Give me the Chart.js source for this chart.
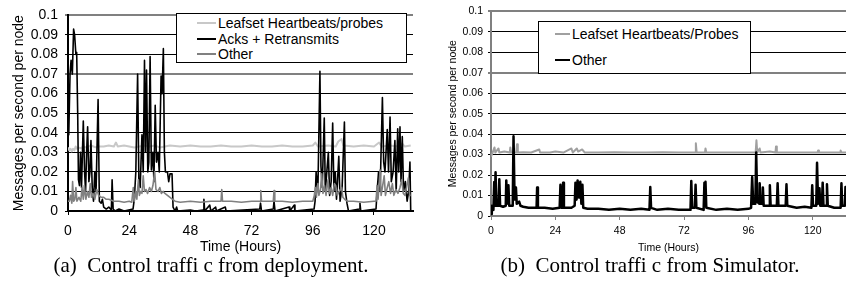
<!DOCTYPE html>
<html>
<head>
<meta charset="utf-8">
<script src="https://cdn.jsdelivr.net/npm/chart.js@4.4.0/dist/chart.umd.min.js"></script>
<style>
body{margin:0;background:#fff;width:846px;height:282px;overflow:hidden;position:relative;font-family:"Liberation Sans",Arial,sans-serif}
canvas{position:absolute;top:0}
#chartA{left:0}
#chartB{left:440px}
.legend{position:absolute;background:#fff;border:1px solid #000;font-size:14px;color:#000}
.legend .item{position:absolute;white-space:nowrap;line-height:16px}
.legend .swatch{position:absolute;height:0}
.caption{position:absolute;font-family:"Liberation Serif","Times New Roman",serif;font-size:21px;line-height:24px;white-space:nowrap;transform:translateX(-50%)}
</style>
</head>
<body>
<canvas id="chartA" width="420" height="255"></canvas>
<canvas id="chartB" width="406" height="255"></canvas>
<div class="legend" id="legendA" style="left:176px;top:13px;width:229px;height:48px"></div>
<div class="legend" id="legendB" style="left:538px;top:21px;width:211px;height:51px"></div>
<div class="caption" style="left:211px;top:253px">(a)&nbsp; Control traffi c from deployment.</div>
<div class="caption" style="left:650px;top:253px">(b)&nbsp; Control traffi c from Simulator.</div>
<script>
// tick values
const xTicks = [0, 24, 48, 72, 96, 120];
const yTicks = [0, 0.01, 0.02, 0.03, 0.04, 0.05, 0.06, 0.07, 0.08, 0.09, 0.1];

// (a) deployment: [hour, messages/s/node]
const leafsetA = [[0,0.0325],[0.5,0.031],[1,0.0318],[1.5,0.0305],[2,0.0318],[2.5,0.031],[3,0.033],[3.5,0.0318],[4,0.0325],[5,0.032],[6,0.033],[7,0.0325],[8,0.033],[9,0.0335],[10,0.033],[11,0.0325],[12,0.033],[14,0.033],[16,0.0335],[18,0.033],[18.8,0.035],[19.5,0.033],[22,0.0335],[24,0.033],[26,0.0325],[28,0.033],[30,0.0335],[32,0.033],[34,0.0335],[36,0.0325],[38,0.033],[40,0.0335],[44,0.033],[48,0.0335],[52,0.033],[56,0.033],[60,0.0335],[64,0.033],[68,0.033],[72,0.0335],[76,0.033],[80,0.033],[84,0.0335],[88,0.033],[92,0.033],[96,0.0335],[97,0.035],[98,0.033],[102,0.0335],[105,0.033],[106,0.0355],[107.3,0.0368],[108,0.0335],[112,0.033],[116,0.0335],[120,0.033],[122,0.035],[123,0.033],[126,0.0335],[130,0.033],[131,0.0345],[132,0.033],[134.4,0.0335]];

const acksA = [[0,0.04],[0.3,0.039],[0.8,0.07],[1.2,0.077],[1.7,0.07],[2.2,0.093],[2.6,0.09],[3.1,0.08],[3.4,0.081],[3.8,0.05],[4.1,0.016],[4.5,0.013],[4.9,0.03],[5.3,0.012],[6,0.046],[6.5,0.02],[6.9,0.01],[7.3,0.03],[7.7,0.043],[8.2,0.015],[8.6,0.02],[9,0.036],[9.5,0.012],[10,0.005],[10.5,0.02],[11,0.01],[11.8,0.057],[12.3,0.005],[13,0.004],[13.5,0.006],[14,0.002],[15,0.001],[16,0.002],[17,0.0005],[17.3,0.016],[17.7,0.001],[18.5,0],[20,0.001],[22,0],[25.5,0.001],[26,0.006],[26.6,0.02],[27.3,0.07],[27.8,0.015],[28.3,0.012],[29,0.039],[29.5,0.02],[30,0.077],[30.4,0.03],[30.8,0.072],[31.3,0.02],[31.7,0.025],[32.2,0.079],[32.7,0.021],[33.3,0.03],[33.7,0.015],[34.2,0.054],[34.7,0.025],[35.3,0.03],[35.8,0.02],[36.5,0.069],[36.9,0.06],[37.4,0.083],[37.8,0.03],[38.2,0.02],[39,0.02],[39.5,0.015],[40,0.019],[40.8,0.019],[41.2,0.002],[42,0],[42.6,0.002],[43,0],[48,0.0005],[50,0],[53,0.0005],[53.3,0.006],[53.6,0],[55.6,0.003],[56,0],[57.9,0.002],[58.2,0],[61.7,0.002],[62,0],[75.2,0.001],[75.5,0.004],[75.9,0],[80.5,0.001],[80.8,0.005],[81.2,0],[86.7,0.002],[87,0],[88.7,0.003],[89,0],[96.5,0.001],[96.9,0.005],[97.3,0.02],[98,0.01],[98.8,0.0714],[99.2,0.023],[99.7,0.012],[100.5,0.0475],[100.9,0.01],[101.5,0.02],[102.1,0.03],[102.6,0.008],[103.2,0.015],[103.8,0.045],[104.3,0.01],[104.8,0.02],[105.3,0.006],[106.2,0.028],[106.7,0.005],[107.5,0.012],[108.4,0.0455],[108.8,0.01],[109.4,0.004],[110,0],[114.3,0.001],[114.5,0.004],[114.8,0],[120.8,0.001],[121.2,0.01],[121.8,0.02],[122.4,0.01],[123.3,0.058],[123.8,0.025],[124.3,0.02],[125.2,0.0416],[125.7,0.02],[126.3,0.048],[126.8,0.015],[127.5,0.02],[128.2,0.036],[128.7,0.01],[129.3,0.042],[129.7,0.02],[130.2,0.043],[130.6,0.015],[131.1,0.038],[131.6,0.01],[132.3,0.015],[133,0.005],[133.6,0.01],[134.1,0.025],[134.4,0]];

const otherA = [[0,0.005],[0.5,0.005],[1,0.008],[1.5,0.004],[1.8,0.015],[2.2,0.005],[2.7,0.006],[3.1,0.012],[3.5,0.005],[4.3,0.007],[5,0.005],[5.5,0.012],[6,0.006],[6.4,0.013],[7,0.006],[7.6,0.01],[8.2,0.007],[8.7,0.014],[9.2,0.007],[9.8,0.009],[10.5,0.006],[11.3,0.011],[12,0.008],[13,0.007],[14,0.007],[15,0.006],[16,0.006],[17,0.0055],[18,0.005],[20,0.005],[22,0.0045],[24,0.005],[25,0.0045],[25.6,0.012],[26,0.005],[26.6,0.01],[27,0.006],[27.6,0.016],[28,0.008],[28.5,0.01],[29,0.009],[29.5,0.018],[30,0.01],[30.6,0.011],[31.2,0.009],[32,0.012],[32.7,0.01],[33.3,0.013],[34,0.02],[34.5,0.011],[35.3,0.01],[36,0.012],[36.6,0.009],[37.3,0.01],[38,0.009],[39,0.008],[40,0.007],[41,0.006],[42,0.005],[44,0.0045],[48,0.005],[52,0.0045],[56,0.005],[60,0.005],[60.3,0.011],[60.6,0.005],[64,0.005],[68,0.0045],[72,0.005],[75.3,0.005],[75.6,0.0105],[75.9,0.005],[80.5,0.005],[80.8,0.0105],[81.1,0.005],[84,0.005],[88,0.0045],[92,0.005],[96,0.005],[96.6,0.008],[97,0.012],[97.4,0.007],[98,0.014],[98.4,0.008],[99,0.011],[99.5,0.019],[100,0.009],[100.6,0.013],[101.2,0.008],[102,0.016],[102.5,0.009],[103.2,0.012],[103.8,0.008],[104.5,0.014],[105,0.013],[105.6,0.008],[106.3,0.01],[107.3,0.012],[107.8,0.007],[108.5,0.006],[109.5,0.005],[112,0.005],[116,0.0045],[120,0.005],[120.8,0.005],[121.2,0.013],[121.6,0.006],[122.4,0.021],[122.8,0.008],[123.4,0.013],[124,0.018],[124.5,0.008],[125.2,0.012],[125.8,0.015],[126.5,0.009],[127.2,0.014],[127.8,0.008],[128.6,0.011],[129.4,0.009],[130.2,0.012],[130.9,0.016],[131.5,0.009],[132.2,0.008],[133.5,0.017],[134,0.008],[134.4,0.008]];

// (b) simulator
const leafsetB = [[0,0.029],[0.6,0.031],[1.3,0.0335],[1.6,0.031],[2.8,0.033],[3.1,0.031],[5,0.0315],[7,0.031],[7.2,0.0335],[7.5,0.031],[9.4,0.031],[9.7,0.035],[10,0.031],[12,0.0312],[15,0.031],[18,0.0325],[18.3,0.031],[22,0.031],[24,0.0315],[27,0.031],[30,0.033],[30.5,0.031],[32,0.033],[32.5,0.0315],[34,0.0325],[35,0.031],[40,0.031],[46,0.0312],[52,0.031],[58,0.031],[64,0.0312],[70,0.031],[76.1,0.031],[76.4,0.0355],[76.7,0.031],[79.8,0.031],[80,0.033],[80.3,0.031],[86,0.031],[92,0.031],[98.7,0.031],[99,0.037],[99.3,0.031],[100.2,0.033],[100.5,0.031],[104,0.0315],[106.1,0.031],[106.3,0.034],[106.6,0.031],[110,0.031],[116,0.031],[121.8,0.031],[122,0.032],[122.3,0.031],[127,0.031],[130.2,0.031],[130.4,0.032],[130.7,0.031],[133,0.031]];

const otherB = [[0,0.001],[0.3,0.005],[0.9,0.003],[1.2,0.0166],[1.4,0.005],[1.7,0.0214],[2,0.005],[2.8,0.005],[3.1,0.0179],[3.4,0.005],[4.5,0.0045],[5.5,0.005],[5.7,0.0174],[6,0.006],[6.5,0.015],[6.8,0.005],[8.1,0.005],[8.4,0.039],[8.8,0.008],[9.3,0.0139],[9.6,0.006],[10.5,0.007],[11,0.005],[12,0.0045],[14,0.004],[17,0.004],[17.2,0.0139],[17.5,0.004],[20,0.004],[23,0.0035],[25.6,0.004],[25.9,0.0153],[26.2,0.004],[26.6,0.004],[26.9,0.0163],[27.2,0.004],[30,0.004],[31.2,0.005],[31.5,0.0163],[31.9,0.008],[32.3,0.0174],[32.8,0.009],[33.3,0.0167],[33.7,0.006],[34.1,0.0153],[34.4,0.004],[36,0.0035],[40,0.0035],[44,0.003],[48,0.0035],[52,0.003],[56,0.0035],[59.1,0.003],[59.4,0.0142],[59.7,0.004],[62,0.003],[66,0.0035],[70,0.003],[74.4,0.003],[74.7,0.0171],[75,0.004],[76,0.004],[76.3,0.0153],[76.6,0.004],[79.3,0.003],[79.6,0.0163],[79.8,0.005],[80,0.0167],[80.3,0.004],[84,0.003],[88,0.0035],[92,0.003],[96,0.0035],[97,0.004],[97.4,0.019],[97.8,0.006],[98.6,0.006],[98.9,0.031],[99.3,0.007],[100,0.006],[100.2,0.016],[100.6,0.006],[101.1,0.006],[101.4,0.0139],[101.7,0.005],[103.7,0.005],[104,0.015],[104.3,0.005],[106.6,0.005],[106.9,0.016],[107.2,0.005],[109.9,0.005],[110.2,0.0155],[110.5,0.005],[114,0.004],[117,0.0045],[119.5,0.004],[119.8,0.015],[120.1,0.005],[121.3,0.005],[121.6,0.026],[122,0.006],[122.5,0.0135],[122.8,0.005],[123.4,0.005],[123.7,0.0163],[124,0.005],[125,0.005],[125.3,0.0155],[125.6,0.005],[128,0.004],[130.4,0.004],[130.7,0.016],[131,0.005],[132,0.005],[132.2,0.0142],[132.5,0.005],[133,0.004]];

function pts(arr) {
  return arr.map(p => ({x: p[0], y: p[1]}));
}

function isGray(v) {
  return Math.abs(v - 0.1) < 1e-6 || Math.abs(v - 0.07) < 1e-6;
}

function makeChart(id, datasets, o) {
  return new Chart(document.getElementById(id), {
    type: 'line',
    data: {datasets: datasets},
    options: {
      responsive: false,
      animation: false,
      layout: {padding: {top: o.top, right: o.right, left: 0, bottom: 0}},
      plugins: {legend: {display: false}, tooltip: {enabled: false}},
      elements: {point: {radius: 0}, line: {tension: 0, borderJoinStyle: 'round'}},
      scales: {
        x: {
          type: 'linear',
          min: 0,
          max: o.xMax,
          afterBuildTicks: s => { s.ticks = xTicks.map(v => ({value: v})); },
          afterFit: s => { s.height = o.xHeight; },
          border: {color: o.axisColor, width: o.axisWidth},
          grid: {drawOnChartArea: false, color: o.axisColor, tickLength: 4},
          ticks: {color: '#000', padding: o.xPad, maxRotation: 0, autoSkip: false, font: {family: 'Liberation Sans', size: o.tickSize}},
          title: {display: true, text: 'Time (Hours)', color: '#000', padding: {top: 0, bottom: o.xTitlePad}, font: {family: 'Liberation Sans', size: o.xTitleSize}}
        },
        y: {
          min: 0,
          max: 0.1,
          afterBuildTicks: s => { s.ticks = yTicks.map(v => ({value: v})); },
          afterFit: s => { s.width = o.yWidth; },
          border: {color: o.axisColor, width: o.axisWidth},
          grid: {
            color: c => isGray(c.tick.value) ? '#808080' : '#000',
            lineWidth: c => isGray(c.tick.value) ? 2 : 1,
            tickLength: 3
          },
          ticks: {color: '#000', padding: o.yPad, autoSkip: false, font: {family: 'Liberation Sans', size: o.tickSize},
            callback: v => String(+v.toFixed(2))},
          title: {display: true, text: 'Messages per second per node', color: '#000', padding: {top: o.yTitlePad, bottom: 0}, font: {family: 'Liberation Sans', size: o.yTitleSize}}
        }
      }
    }
  });
}

function makeLegend(id, datasets, rows, swLeft, swWidth, textLeft) {
  const box = document.getElementById(id);
  datasets.forEach((d, i) => {
    const sw = document.createElement('div');
    sw.className = 'swatch';
    sw.style.left = swLeft + 'px';
    sw.style.width = swWidth + 'px';
    sw.style.top = (rows[i] - 1) + 'px';
    sw.style.borderTop = '2px solid ' + d.borderColor;
    box.appendChild(sw);
    const t = document.createElement('div');
    t.className = 'item';
    t.style.left = textLeft + 'px';
    t.style.top = (rows[i] - 8) + 'px';
    t.textContent = d.label;
    box.appendChild(t);
  });
}

const dsA = [
  {label: 'Leafset Heartbeats/probes', data: pts(leafsetA), borderColor: '#c8c8c8', borderWidth: 2, order: 3},
  {label: 'Acks + Retransmits', data: pts(acksA), borderColor: '#000000', borderWidth: 1.6, order: 2},
  {label: 'Other', data: pts(otherA), borderColor: '#808080', borderWidth: 1.6, order: 1}
];
const dsB = [
  {label: 'Leafset Heartbeats/Probes', data: pts(leafsetB), borderColor: '#a0a0a0', borderWidth: 2, order: 2},
  {label: 'Other', data: pts(otherB), borderColor: '#000000', borderWidth: 2.5, order: 1}
];

makeChart('chartA', dsA, {top: 9, right: 7, xMax: 135.3, xHeight: 44, yWidth: 68, axisColor: '#000', axisWidth: 2,
  tickSize: 14, xPad: 8, yPad: 7, xTitleSize: 14, xTitlePad: -1, yTitleSize: 14, yTitlePad: 11});
makeChart('chartB', dsB, {top: 9, right: 0, xMax: 132.4, xHeight: 39, yWidth: 51, axisColor: '#808080', axisWidth: 2,
  tickSize: 10.5, xPad: 5, yPad: 5, xTitleSize: 10.5, xTitlePad: 1, yTitleSize: 10.5, yTitlePad: 7});

makeLegend('legendA', dsA, [9.3, 25.3, 40.3], 20, 19, 41);
makeLegend('legendB', dsB, [12, 38], 16, 15, 33);
</script>
</body>
</html>
